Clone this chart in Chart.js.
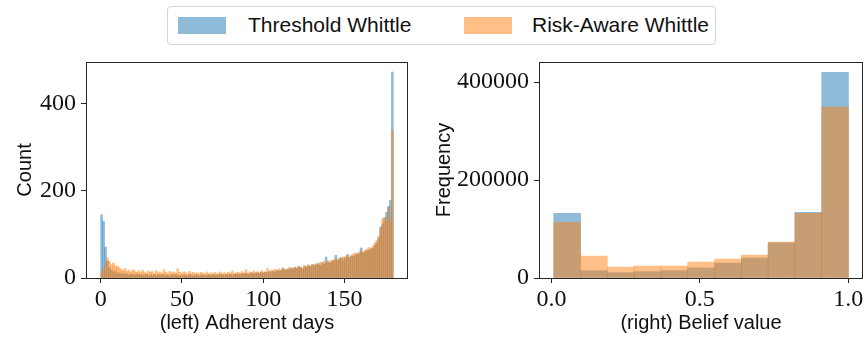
<!DOCTYPE html>
<html>
<head>
<meta charset="utf-8">
<script src="https://cdn.jsdelivr.net/npm/chart.js@4"></script>
<style>
  body { margin: 0; background: #fff; width: 866px; height: 339px; position: relative; overflow: hidden; }
  #legend {
    position: absolute; left: 167px; top: 6px; width: 549px; height: 39px;
    border: 1px solid #d5d5d5; border-radius: 4px; box-sizing: border-box;
    font-family: "Liberation Sans", Arial, sans-serif; font-size: 21px; color: #111;
  }
  #legend .sw { position: absolute; top: 10px; width: 48px; height: 17px; }
  #legend .lb { position: absolute; top: 6px; line-height: 24px; }
  canvas { position: absolute; }
</style>
</head>
<body>
<div id="legend">
  <div class="sw" style="left:10px;background:rgba(31,119,180,0.5)"></div>
  <div class="lb" style="left:80px">Threshold Whittle</div>
  <div class="sw" style="left:296px;background:rgba(255,127,14,0.5)"></div>
  <div class="lb" style="left:364px">Risk-Aware Whittle</div>
</div>
<canvas id="leftChart" style="left:0;top:50px" width="425" height="289"></canvas>
<canvas id="rightChart" style="left:430px;top:50px" width="436" height="289"></canvas>
<script>
// left: adherent days, 150 bins of 1.2 days starting at 0
const daysBinStart = 0;
const daysBinWidth = 1.2;
const daysThreshold = [
  145, 130, 71, 38, 24, 18, 14, 16, 10, 12,
  9, 11, 8, 10, 7, 9, 8, 6, 9, 7,
  8, 6, 7, 9, 5, 7, 6, 8, 5, 7,
  6, 8, 5, 7, 6, 5, 7, 6, 8, 5,
  6, 5, 7, 6, 5, 8, 6, 5, 7, 6,
  5, 7, 6, 5, 6, 8, 5, 7, 6, 7,
  6, 8, 7, 6, 9, 7, 8, 6, 9, 8,
  9, 8, 10, 9, 11, 8, 10, 12, 9, 11,
  12, 10, 13, 11, 14, 12, 15, 13, 16, 14,
  17, 15, 18, 22, 17, 20, 19, 23, 21, 24,
  22, 26, 24, 21, 27, 25, 29, 26, 31, 28,
  30, 33, 29, 35, 32, 48, 36, 34, 40, 38,
  52, 41, 44, 46, 42, 48, 54, 47, 50, 49,
  52, 56, 55, 69, 58, 60, 62, 64, 66, 68,
  75, 80, 92, 117, 124, 138, 150, 164, 178, 472
];
const daysRiskAware = [
  14, 22, 33, 46, 38, 30, 34, 28, 27, 24,
  20, 17, 22, 15, 18, 14, 19, 16, 13, 17,
  12, 18, 14, 11, 16, 13, 15, 10, 17, 12,
  14, 11, 19, 13, 10, 15, 12, 14, 11, 21,
  13, 10, 14, 12, 9, 15, 11, 13, 10, 12,
  9, 13, 11, 10, 14, 8, 12, 10, 13, 9,
  11, 14, 10, 12, 9, 13, 11, 16, 10, 12,
  13, 11, 15, 12, 19, 11, 14, 12, 16, 13,
  15, 12, 17, 14, 13, 22, 15, 18, 16, 20,
  18, 21, 17, 23, 20, 19, 24, 22, 21, 25,
  23, 27, 25, 22, 28, 26, 30, 27, 29, 31,
  33, 30, 36, 34, 38, 35, 40, 37, 39, 42,
  44, 41, 47, 45, 49, 46, 51, 48, 53, 55,
  57, 54, 60, 62, 59, 64, 66, 70, 68, 73,
  80, 86, 96, 112, 136, 130, 140, 162, 132, 339
];
const daysTicks = [0, 50, 100, 150];
const countTicks = [0, 200, 400];

// right: belief value, 11 bins
const beliefBinStart = 0.0078;
const beliefBinWidth = 0.0903;
const beliefThreshold = [132000, 14900, 10800, 12900, 14900, 20600, 30400, 40600, 71700, 134000, 420000];
const beliefRiskAware = [113700, 44700, 22300, 24400, 24400, 32500, 38600, 46700, 73100, 132000, 349000];
const beliefTicks = [0, 0.5, 1.0];
const freqTicks = [0, 200000, 400000];

const blue = 'rgba(31,119,180,0.5)';
const orange = 'rgba(255,127,14,0.5)';
const serif = '"Liberation Serif", "Times New Roman", serif';
const sans = '"Liberation Sans", Arial, sans-serif';

const toPoints = (vals, start, w) => vals.map((v, i) => ({x: start + w * (i + 0.5), y: v}));

const frame = {
  id: 'frame',
  afterDraw(chart) {
    const {ctx, chartArea: a} = chart;
    ctx.save();
    ctx.strokeStyle = '#262626';
    ctx.lineWidth = 1;
    ctx.strokeRect(Math.round(a.left) + 0.5, Math.round(a.top) + 0.5,
      Math.round(a.right - a.left) - 1, Math.round(a.bottom - a.top));
    ctx.restore();
  }
};

function makeHist(el, o) {
  return new Chart(el, {
    type: 'bar',
    data: {
      datasets: [
        {label: 'Threshold Whittle', data: toPoints(o.a, o.start, o.w), backgroundColor: blue, order: 2},
        {label: 'Risk-Aware Whittle', data: toPoints(o.b, o.start, o.w), backgroundColor: orange, order: 1}
      ]
    },
    plugins: [frame],
    options: {
      responsive: false,
      animation: false,
      events: [],
      layout: {padding: {left: 0, top: 12, right: o.padRight, bottom: 0}},
      datasets: {bar: {grouped: false, barPercentage: 1, categoryPercentage: 1, borderWidth: 0}},
      plugins: {legend: {display: false}, tooltip: {enabled: false}},
      scales: {
        x: {
          type: 'linear', offset: false, min: o.xmin, max: o.xmax,
          border: {display: false},
          grid: {offset: false, drawOnChartArea: false, drawTicks: true, tickLength: 5, tickColor: '#262626'},
          afterBuildTicks: s => { s.ticks = o.xticks.map(v => ({value: v})); },
          afterFit: s => { s.height = 61; s.paddingLeft = 0; s.paddingRight = 0; },
          ticks: {color: '#111', padding: 2, font: {family: serif, size: o.tickSize}, maxRotation: 0,
            callback: o.xfmt},
          title: {display: true, text: o.xtitle, color: '#111', font: {family: sans, size: 20},
            padding: {top: 0, bottom: 4}}
        },
        y: {
          min: 0, max: o.ymax,
          border: {display: false},
          grid: {drawOnChartArea: false, drawTicks: true, tickLength: 5, tickColor: '#262626'},
          afterBuildTicks: s => { s.ticks = o.yticks.map(v => ({value: v})); },
          afterFit: s => { s.width = o.yWidth; s.paddingTop = 0; s.paddingBottom = 0; },
          ticks: {color: '#111', padding: 5, font: {family: serif, size: o.tickSize},
            callback: v => String(v)},
          title: {display: true, text: o.ytitle, color: '#111', font: {family: sans, size: 20},
            padding: {top: o.ytitlePad, bottom: 0}}
        }
      }
    }
  });
}

makeHist(document.getElementById('leftChart'), {
  a: daysThreshold, b: daysRiskAware, start: daysBinStart, w: daysBinWidth,
  xmin: -9, xmax: 189, ymax: 495, xticks: daysTicks, yticks: countTicks,
  xfmt: v => String(v), xtitle: '(left) Adherent days', ytitle: 'Count',
  yWidth: 86, ytitlePad: 13, padRight: 17, tickSize: 24
});

makeHist(document.getElementById('rightChart'), {
  a: beliefThreshold, b: beliefRiskAware, start: beliefBinStart, w: beliefBinWidth,
  xmin: -0.042, xmax: 1.05, ymax: 441000, xticks: beliefTicks, yticks: freqTicks,
  xfmt: v => v.toFixed(1), xtitle: '(right) Belief value', ytitle: 'Frequency',
  yWidth: 109, ytitlePad: 2, padRight: 3, tickSize: 24
});
</script>
</body>
</html>
